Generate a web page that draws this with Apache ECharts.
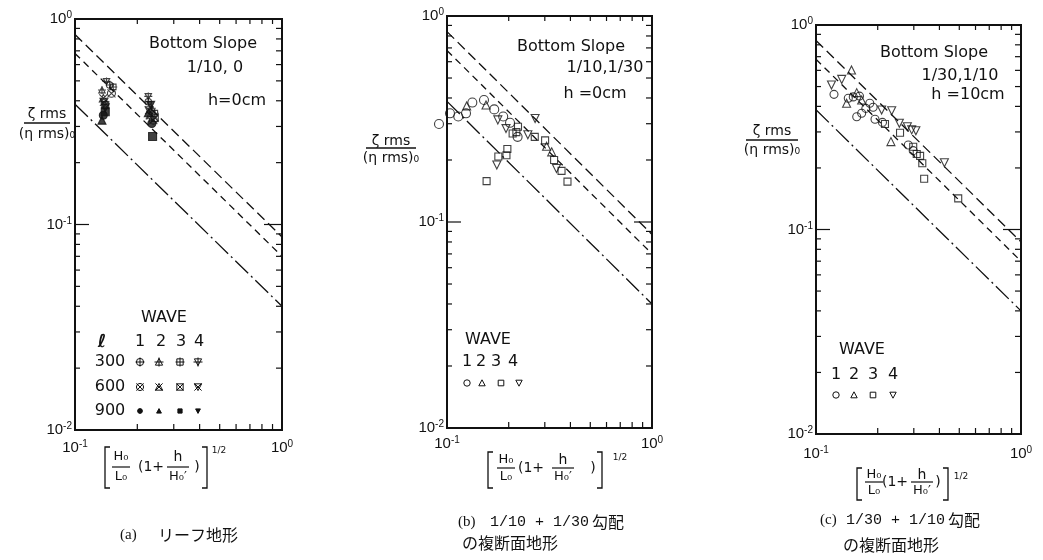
<!DOCTYPE html>
<html>
<head>
<meta charset="utf-8">
<script src="https://cdn.jsdelivr.net/npm/echarts@6/dist/echarts.min.js"></script>
<style>
  html, body { margin: 0; padding: 0; background: #fff; }
  #chart { width: 1043px; height: 560px; }
</style>
</head>
<body>
<div id="chart"></div>
<script>
// ---------------- data ----------------
// decade tick labels (base 10, exponent as superscript)
const xTickValues = [0.1, 1];
const xTickExps = ['-1', '0'];
const yTickValues = [0.01, 0.1, 1];
const yTickExps = ['-2', '-1', '0'];
// minor ticks at 2..9 of each decade
const minorTickValues = [0.02, 0.03, 0.04, 0.05, 0.06, 0.07, 0.08, 0.09,
                         0.2, 0.3, 0.4, 0.5, 0.6, 0.7, 0.8, 0.9];

// reference lines (same in every panel): [x, y] end points
const upperLine  = [[0.1, 0.84], [1, 0.087]];
const middleLine = [[0.1, 0.68], [1, 0.070]];
const lowerLine  = [[0.1, 0.385], [1, 0.040]];

// (a) reef profile, bottom slope 1/10, 0 ; rows l = 300, 600, 900 ; waves 1..4
const reefL300 = [
  [[0.147, 0.477], [0.226, 0.396]],
  [[0.135, 0.451], [0.235, 0.368]],
  [[0.153, 0.467], [0.243, 0.348]],
  [[0.142, 0.497], [0.226, 0.420]]
];
const reefL600 = [
  [[0.150, 0.435], [0.239, 0.322]],
  [[0.137, 0.411], [0.231, 0.340]],
  [[0.140, 0.381], [0.243, 0.330]],
  [[0.138, 0.395], [0.228, 0.360]]
];
const reefL900 = [
  [[0.137, 0.340], [0.235, 0.310]],
  [[0.135, 0.322], [0.226, 0.350]],
  [[0.140, 0.354], [0.237, 0.268]],
  [[0.140, 0.370], [0.232, 0.380]]
];

// (b) bottom slope 1/10, 1/30 ; h = 0 cm
const slopeBWave1 = [[0.0914, 0.299], [0.1034, 0.337], [0.1135, 0.325], [0.1238, 0.337],
  [0.1329, 0.380], [0.1515, 0.391], [0.170, 0.352], [0.188, 0.325], [0.203, 0.303], [0.221, 0.259]];
const slopeBWave2 = [[0.1247, 0.366], [0.155, 0.370], [0.306, 0.233], [0.324, 0.219]];
const slopeBWave3 = [[0.209, 0.269], [0.222, 0.290], [0.218, 0.273], [0.268, 0.259], [0.301, 0.249],
  [0.333, 0.200], [0.362, 0.177], [0.387, 0.157], [0.178, 0.208], [0.195, 0.211], [0.197, 0.226],
  [0.156, 0.158]];
const slopeBWave4 = [[0.177, 0.313], [0.194, 0.284], [0.248, 0.265], [0.269, 0.318], [0.175, 0.189],
  [0.342, 0.182]];

// (c) bottom slope 1/30, 1/10 ; h = 10 cm
const slopeCWave1 = [[0.1224, 0.458], [0.1437, 0.438], [0.152, 0.445], [0.163, 0.449], [0.158, 0.356],
  [0.167, 0.370], [0.175, 0.391], [0.183, 0.414], [0.190, 0.396], [0.194, 0.346], [0.211, 0.334],
  [0.282, 0.259], [0.298, 0.243]];
const slopeCWave2 = [[0.149, 0.603], [0.141, 0.414], [0.158, 0.467], [0.167, 0.430], [0.232, 0.269]];
const slopeCWave3 = [[0.217, 0.328], [0.257, 0.297], [0.298, 0.254], [0.310, 0.234], [0.322, 0.229],
  [0.330, 0.211], [0.337, 0.177], [0.494, 0.142]];
const slopeCWave4 = [[0.1335, 0.542], [0.119, 0.509], [0.209, 0.384], [0.234, 0.381], [0.255, 0.331],
  [0.279, 0.318], [0.293, 0.307], [0.307, 0.304], [0.423, 0.212]];

// ---------------- styling ----------------
const INK = '#111';
const PLOT_FONT = '"DejaVu Sans", sans-serif';
const SHAPE = {
  circle: 'M2,10A8,8,0,1,1,18,10A8,8,0,1,1,2,10Z',
  tri: 'M10,2L18,17L2,17Z',
  square: 'M3,3L17,3L17,17L3,17Z',
  itri: 'M2,3L18,3L10,18Z',
  plus: 'M10,0L10,20M0,10L20,10',
  cross: 'M2,2L18,18M18,2L2,18'
};
const waveShapes = ['circle', 'tri', 'square', 'itri'];

const grids = [
  { left: 75,  top: 19, width: 207, height: 411 },
  { left: 447, top: 16, width: 205, height: 412 },
  { left: 816, top: 25, width: 205, height: 409 }
];
const xLabelMargin = [9, 7, 11];

function labelFormatter(values, exps) {
  return function (v) {
    const k = values.findIndex(t => Math.abs(Math.log10(t) - Math.log10(v)) < 1e-6);
    return k < 0 ? '' : '{b|10}{s|' + exps[k] + '}';
  };
}
const labelRich = {
  b: { fontSize: 15, fontFamily: '"Liberation Sans", sans-serif', color: INK, lineHeight: 17 },
  s: { fontSize: 10, fontFamily: '"Liberation Sans", sans-serif', color: INK, verticalAlign: 'top', lineHeight: 11 }
};

// ---------------- axes & series ----------------
const xAxes = [], yAxes = [], series = [];

grids.forEach((g, i) => {
  xAxes.push({
    gridIndex: i, type: 'log', logBase: 10, min: 0.1, max: 1,
    axisLine: { show: false }, axisTick: { show: false }, splitLine: { show: false },
    axisLabel: { formatter: labelFormatter(xTickValues, xTickExps), rich: labelRich,
                 margin: xLabelMargin[i], showMinLabel: true, showMaxLabel: true }
  });
  yAxes.push({
    gridIndex: i, type: 'log', logBase: 10, min: 0.01, max: 1,
    axisLine: { show: false }, axisTick: { show: false }, splitLine: { show: false },
    axisLabel: { formatter: labelFormatter(yTickValues, yTickExps), rich: labelRich,
                 margin: 3, showMinLabel: true, showMaxLabel: true }
  });

  // inward ticks on bottom and top edges
  series.push({
    type: 'custom', xAxisIndex: i, yAxisIndex: i, silent: true, z: 5,
    data: minorTickValues.filter(v => v > 0.1 && v < 1).map(v => [v, 0.1]),
    renderItem: (params, api) => {
      const cs = params.coordSys;
      const px = api.coord([api.value(0), 0.1])[0];
      const st = { stroke: INK, lineWidth: 1.2 };
      return { type: 'group', children: [
        { type: 'line', shape: { x1: px, y1: cs.y + cs.height, x2: px, y2: cs.y + cs.height - 6 }, style: st },
        { type: 'line', shape: { x1: px, y1: cs.y, x2: px, y2: cs.y + 5 }, style: st }
      ] };
    }
  });
  // inward ticks on left and right edges (10^-1 is a major tick)
  series.push({
    type: 'custom', xAxisIndex: i, yAxisIndex: i, silent: true, z: 5,
    data: minorTickValues.concat([0.1]).map(v => [0.1, v]),
    renderItem: (params, api) => {
      const cs = params.coordSys;
      const v = api.value(1);
      const py = api.coord([0.1, v])[1];
      const major = Math.abs(v - 0.1) < 1e-9;
      const st = { stroke: INK, lineWidth: 1.2 };
      return { type: 'group', children: [
        { type: 'line', shape: { x1: cs.x, y1: py, x2: cs.x + (major ? 14 : 5), y2: py }, style: st },
        { type: 'line', shape: { x1: cs.x + cs.width, y1: py, x2: cs.x + cs.width - (major ? 18 : 6), y2: py }, style: st }
      ] };
    }
  });

  // reference lines
  [[upperLine, [10, 5]], [middleLine, [7, 5]], [lowerLine, [18, 4, 2, 4]]].forEach(([pts, dash]) => {
    series.push({
      type: 'line', xAxisIndex: i, yAxisIndex: i, data: pts, symbol: 'none', silent: true, z: 3,
      lineStyle: { color: INK, width: 1.3, type: dash }
    });
  });
});

function markerSeries(gi, data, shapeKey, extra, filled, size) {
  return {
    type: 'scatter', xAxisIndex: gi, yAxisIndex: gi, data: data, clip: false, z: 6,
    symbol: 'path://' + SHAPE[shapeKey] + (extra ? SHAPE[extra] : ''),
    symbolSize: size, silent: true,
    itemStyle: { color: filled ? INK : 'rgba(0,0,0,0)', borderColor: INK, borderWidth: 1.1 }
  };
}

// (a) markers: row 300 -> shape with +, row 600 -> shape with x, row 900 -> filled
[[reefL300, 'plus', false], [reefL600, 'cross', false], [reefL900, null, true]].forEach(([rows, extra, filled]) => {
  rows.forEach((pts, w) => series.push(markerSeries(0, pts, waveShapes[w], extra, filled, 8)));
});
// (b) and (c) markers
[slopeBWave1, slopeBWave2, slopeBWave3, slopeBWave4].forEach((pts, w) =>
  series.push(markerSeries(1, pts, waveShapes[w], null, false, [9, 8, 7, 8][w])));
[slopeCWave1, slopeCWave2, slopeCWave3, slopeCWave4].forEach((pts, w) =>
  series.push(markerSeries(2, pts, waveShapes[w], null, false, [8, 8, 7, 8][w])));

// ---------------- annotation graphics ----------------
function T(x, y, text, size, opt) {
  opt = opt || {};
  const align = opt.align || 'center';
  return {
    type: 'text', x: x, y: y, silent: true, z: 10,
    style: {
      text: text, fill: INK,
      font: (opt.weight || 'normal') + ' ' + size + 'px ' + (opt.family || PLOT_FONT),
      align: align, verticalAlign: 'middle', textAlign: align, textVerticalAlign: 'middle'
    }
  };
}
function L(x1, y1, x2, y2, w) {
  return { type: 'line', silent: true, z: 10, shape: { x1, y1, x2, y2 }, style: { stroke: INK, lineWidth: w || 1 } };
}
function bracket(x, y1, y2, dir) {
  return { type: 'polyline', silent: true, z: 10,
    shape: { points: [[x + 5 * dir, y1], [x, y1], [x, y2], [x + 5 * dir, y2]] },
    style: { stroke: INK, fill: 'none', lineWidth: 1.3 } };
}
// legend mark built from primitive shapes
function mark(cx, cy, shapeKey, extra, filled, s) {
  const h = s / 2;
  const st = { fill: filled ? INK : 'none', stroke: INK, lineWidth: 1 };
  let body;
  if (shapeKey === 'circle') body = { type: 'circle', shape: { cx: cx, cy: cy, r: h * 0.8 }, style: st };
  else if (shapeKey === 'square') body = { type: 'rect', shape: { x: cx - h * 0.7, y: cy - h * 0.7, width: h * 1.4, height: h * 1.4 }, style: st };
  else if (shapeKey === 'tri') body = { type: 'polygon', shape: { points: [[cx, cy - h * 0.8], [cx + h * 0.8, cy + h * 0.7], [cx - h * 0.8, cy + h * 0.7]] }, style: st };
  else body = { type: 'polygon', shape: { points: [[cx - h * 0.8, cy - h * 0.7], [cx + h * 0.8, cy - h * 0.7], [cx, cy + h * 0.8]] }, style: st };
  const children = [body];
  const ls = { stroke: INK, lineWidth: 1 };
  if (extra === 'plus') {
    children.push({ type: 'line', shape: { x1: cx, y1: cy - h, x2: cx, y2: cy + h }, style: ls });
    children.push({ type: 'line', shape: { x1: cx - h, y1: cy, x2: cx + h, y2: cy }, style: ls });
  } else if (extra === 'cross') {
    children.push({ type: 'line', shape: { x1: cx - h * 0.8, y1: cy - h * 0.8, x2: cx + h * 0.8, y2: cy + h * 0.8 }, style: ls });
    children.push({ type: 'line', shape: { x1: cx + h * 0.8, y1: cy - h * 0.8, x2: cx - h * 0.8, y2: cy + h * 0.8 }, style: ls });
  }
  return { type: 'group', silent: true, z: 10, children: children };
}
// y-axis title: zeta_rms over (eta_rms)_0
function yTitle(cx, yTop, x1, x2, yLine, yBot) {
  return [T(cx, yTop, 'ζ rms', 14), L(x1, yLine, x2, yLine, 1.3), T(cx, yBot, '(η rms)₀', 14)];
}
// x-axis title: [ H0/L0 (1 + h/H0') ]^(1/2)
function xTitle(p) {
  return [
    bracket(p.bl, p.top, p.bot, 1),
    T(p.f1, p.num, 'H₀', 13), L(p.f1 - 9, p.mid, p.f1 + 9, p.mid, 1.2), T(p.f1, p.den, 'L₀', 13),
    T(p.op, p.mid, '(1+', 14),
    T(p.f2, p.num, 'h', 14), L(p.f2 - 11, p.mid, p.f2 + 11, p.mid, 1.2), T(p.f2, p.den, 'H₀′', 13),
    T(p.cp, p.mid, ')', 14),
    bracket(p.br, p.top, p.bot, -1),
    T(p.ex, p.exy, '1/2', 9)
  ];
}

const CAP_SERIF = '"Liberation Serif", serif';
const CAP_MONO = '"Liberation Mono", monospace';
const CAP_CJK = '"Noto Sans CJK JP", sans-serif';

const elements = [].concat(
  // (a)
  T(203, 44, 'Bottom Slope', 16), T(215, 68, '1/10, 0', 16), T(237, 101, 'h=0cm', 16),
  yTitle(47, 114, 24, 70, 123, 134),
  xTitle({ bl: 105, br: 207, top: 447, bot: 488, f1: 121, f2: 178, num: 457, mid: 467, den: 477,
           op: 151, cp: 197, ex: 219, exy: 451 }),
  T(164, 318, 'WAVE', 16), T(102, 342, 'ℓ', 18, { weight: 'bold' }),
  T(140, 342, '1', 16), T(161, 342, '2', 16), T(181, 342, '3', 16), T(199, 342, '4', 16),
  T(110, 362, '300', 16), T(110, 387, '600', 16), T(110, 411, '900', 16),
  // (b)
  T(571, 47, 'Bottom Slope', 16), T(605, 68, '1/10,1/30', 16), T(595, 94, 'h =0cm', 16),
  yTitle(391, 141, 366, 416, 148, 158),
  xTitle({ bl: 488, br: 602, top: 452, bot: 488, f1: 506, f2: 563, num: 460, mid: 468, den: 477,
           op: 531, cp: 593, ex: 620, exy: 458 }),
  T(488, 340, 'WAVE', 16),
  T(467, 362, '1', 16), T(481, 362, '2', 16), T(496, 362, '3', 16), T(513, 362, '4', 16),
  // (c)
  T(934, 53, 'Bottom Slope', 16), T(960, 76, '1/30,1/10', 16), T(968, 95, 'h =10cm', 16),
  yTitle(772, 131, 746, 798, 140, 150),
  xTitle({ bl: 857, br: 948, top: 468, bot: 500, f1: 874, f2: 922, num: 475, mid: 482, den: 491,
           op: 895, cp: 938, ex: 961, exy: 477 }),
  T(862, 350, 'WAVE', 16),
  T(836, 375, '1', 16), T(854, 375, '2', 16), T(873, 375, '3', 16), T(893, 375, '4', 16),
  // captions
  T(120, 535, '(a)', 15, { align: 'left', family: CAP_SERIF }),
  T(158, 535, 'リーフ地形', 16, { align: 'left', family: CAP_CJK }),
  T(458, 522, '(b)', 15, { align: 'left', family: CAP_SERIF }),
  T(490, 522, '1/10 + 1/30', 15, { align: 'left', family: CAP_MONO }),
  T(592, 522, '勾配', 16, { align: 'left', family: CAP_CJK }),
  T(462, 543, 'の複断面地形', 16, { align: 'left', family: CAP_CJK }),
  T(820, 520, '(c)', 15, { align: 'left', family: CAP_SERIF }),
  T(846, 520, '1/30 + 1/10', 15, { align: 'left', family: CAP_MONO }),
  T(948, 520, '勾配', 16, { align: 'left', family: CAP_CJK }),
  T(843, 545, 'の複断面地形', 16, { align: 'left', family: CAP_CJK })
);

// legend marks: (a) grid of l x wave, (b)/(c) one row of open marks
const legendAX = [140, 159, 180, 198];
[[362, 'plus', false], [387, 'cross', false], [411, null, true]].forEach(([y, extra, filled]) => {
  legendAX.forEach((x, w) => elements.push(mark(x, y, waveShapes[w], extra, filled, extra ? 9 : 6)));
});
[467, 482, 501, 519].forEach((x, w) => elements.push(mark(x, 383, waveShapes[w], null, false, 8)));
[836, 854, 873, 893].forEach((x, w) => elements.push(mark(x, 395, waveShapes[w], null, false, 8)));

const option = {
  backgroundColor: '#fff',
  animation: false,
  grid: grids.map(g => Object.assign({ show: true, borderColor: INK, borderWidth: 2,
                                       backgroundColor: 'rgba(0,0,0,0)' }, g)),
  xAxis: xAxes,
  yAxis: yAxes,
  series: series,
  graphic: { elements: elements }
};

const chart = echarts.init(document.getElementById('chart'), null, { renderer: 'canvas' });
chart.setOption(option);
</script>
</body>
</html>
